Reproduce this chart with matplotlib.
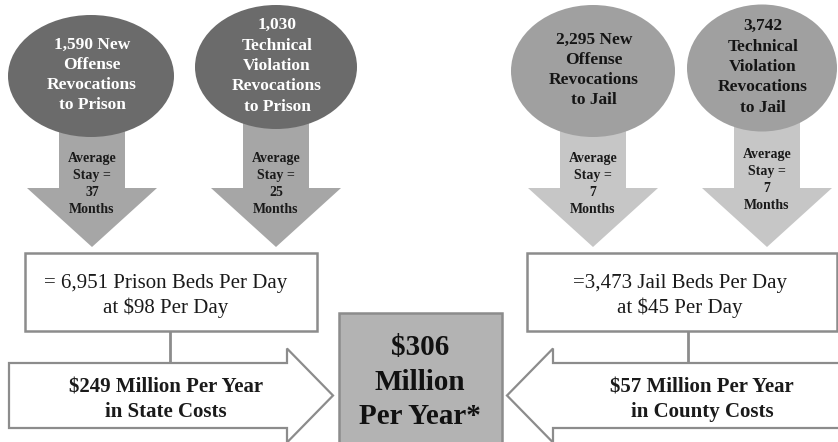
import matplotlib
matplotlib.use('Agg')
import matplotlib.pyplot as plt
from matplotlib.patches import Ellipse, Polygon, Rectangle

# ---- data ----
revocations = [1590, 1030, 2295, 3742]
revocation_kind = ['New\nOffense', 'Technical\nViolation', 'New\nOffense', 'Technical\nViolation']
destination = ['Prison', 'Prison', 'Jail', 'Jail']
stay_months = [37, 25, 7, 7]
beds_per_day = [6951, 3473]
bed_type = ['Prison', 'Jail']
cost_per_day = [98, 45]
annual_cost_m = [249, 57]
cost_payer = ['State', 'County']
total_cost_m = 306

# ---- layout (pixel coordinates, y downwards) ----
W, H = 838, 442
ELL = [(91, 76, 166, 122), (276, 67, 162, 124), (593, 71, 164, 132), (762, 68, 150, 127)]
ELL_COLOR = ['#6b6b6b', '#6b6b6b', '#a0a0a0', '#a0a0a0']
ELL_TEXT = ['white', 'white', '#151515', '#151515']
ARROW_X = [92, 276, 593, 767]
STAY_Y = [184, 184, 184, 180]
ARROW_COLOR = ['#a6a6a6', '#a6a6a6', '#c6c6c6', '#c6c6c6']
EDGE = '#8c8c8c'
FONT = 'Liberation Serif'

fig = plt.figure(figsize=(W / 100, H / 100), dpi=100)
ax = fig.add_axes([0, 0, 1, 1])
ax.set_xlim(0, W)
ax.set_ylim(H, 0)
ax.axis('off')


def down_arrow(cx, color, top=115, neck=188, tip=247, shaft=33, head=65):
    pts = [(cx - shaft, top), (cx + shaft, top), (cx + shaft, neck), (cx + head, neck),
           (cx, tip), (cx - head, neck), (cx - shaft, neck)]
    ax.add_patch(Polygon(pts, closed=True, facecolor=color, edgecolor='none', zorder=1))


def block_arrow(x0, x1, x_neck, tip_x, cy=395.5, body=32.5, head=47):
    pts = [(x0, cy - body), (x_neck, cy - body), (x_neck, cy - head), (tip_x, cy),
           (x_neck, cy + head), (x_neck, cy + body), (x0, cy + body)]
    ax.add_patch(Polygon(pts, closed=True, facecolor='white', edgecolor=EDGE,
                         linewidth=1.6, zorder=2))


# ---- revocation ellipses + average-stay arrows ----
for i in range(4):
    down_arrow(ARROW_X[i], ARROW_COLOR[i])
    cx, cy, w, h = ELL[i]
    ax.add_patch(Ellipse((cx, cy), w, h, facecolor=ELL_COLOR[i], edgecolor='none', zorder=2))
    if revocation_kind[i].startswith('New'):
        label = f'{revocations[i]:,} New\nOffense\nRevocations\nto {destination[i]}'
    else:
        label = f'{revocations[i]:,}\nTechnical\nViolation\nRevocations\nto {destination[i]}'
    ax.text(cx + 1, cy - 1, label, ha='center', va='center', fontsize=12.5,
            fontweight='bold', color=ELL_TEXT[i], family=FONT, linespacing=1.36, zorder=3)
    ax.text(ARROW_X[i], STAY_Y[i], f'Average\nStay =\n{stay_months[i]}\nMonths', ha='center',
            va='center', fontsize=10, fontweight='bold', color='#1a1a1a', family=FONT,
            linespacing=1.42, zorder=3)

# ---- beds boxes ----
boxes = [(25, 317, 170, 166), (527, 837, 688, 680)]
for j, (bx0, bx1, link_x, tx) in enumerate(boxes):
    ax.add_patch(Rectangle((bx0, 253), bx1 - bx0, 78, facecolor='white', edgecolor=EDGE,
                           linewidth=1.8, zorder=2))
    eq = '= ' if j == 0 else '='
    ax.text(tx, 296, f'{eq}{beds_per_day[j]:,} {bed_type[j]} Beds Per Day\n'
                     f'at ${cost_per_day[j]} Per Day',
            ha='center', va='center', fontsize=15, color='#1a1a1a', family=FONT,
            linespacing=1.32, zorder=3)
    ax.plot([link_x, link_x], [331, 364], color=EDGE, linewidth=2, zorder=1)

# ---- annual cost arrows ----
block_arrow(9, 287, 287, 333)
block_arrow(860, 553, 553, 507)
ax.text(166, 400, f'${annual_cost_m[0]} Million Per Year\nin {cost_payer[0]} Costs',
        ha='center', va='center', fontsize=15, fontweight='bold', color='#1a1a1a',
        family=FONT, linespacing=1.32, zorder=3)
ax.text(702, 400, f'${annual_cost_m[1]} Million Per Year\nin {cost_payer[1]} Costs',
        ha='center', va='center', fontsize=15, fontweight='bold', color='#1a1a1a',
        family=FONT, linespacing=1.32, zorder=3)

# ---- total ----
ax.add_patch(Rectangle((339, 313), 163, 140, facecolor='#b3b3b3', edgecolor=EDGE,
                       linewidth=1.8, zorder=2))
ax.text(420, 382, f'${total_cost_m}\nMillion\nPer Year*', ha='center', va='center',
        fontsize=21, fontweight='bold', color='#111111', family=FONT,
        linespacing=1.38, zorder=3)

fig.savefig('out.png', dpi=100)
